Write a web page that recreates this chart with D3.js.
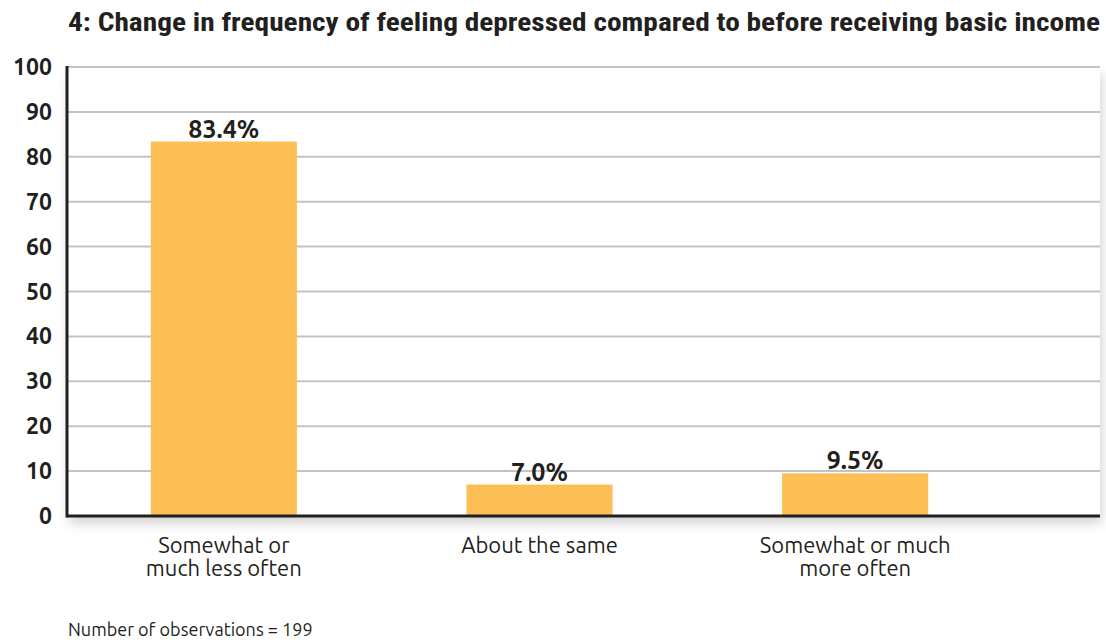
<!DOCTYPE html>
<html>
<head>
<meta charset="utf-8">
<script src="https://cdn.jsdelivr.net/npm/d3@7"></script>
<style>
  body { margin: 0; background: #fff; }
  svg { display: block; }
</style>
</head>
<body>
<svg id="chart"></svg>
<script>
const categories = [['Somewhat or', 'much less often'], ['About the same'], ['Somewhat or much', 'more often']];
const values = [83.4, 7.0, 9.5];
const valueLabels = ['83.4%', '7.0%', '9.5%'];
const yTicks = [0, 10, 20, 30, 40, 50, 60, 70, 80, 90, 100];
const title = '4: Change in frequency of feeling depressed compared to before receiving basic income';
const note = 'Number of observations = 199';

const width = 1106, height = 640;
const margin = {top: 67, right: 6, bottom: 124, left: 67};
const plotRight = width - margin.right;
const innerH = height - margin.top - margin.bottom;

const svg = d3.select('#chart')
    .attr('width', width)
    .attr('height', height)
    .style('font-family', "Ubuntu, 'Open Sans', 'Noto Sans', sans-serif");

const defs = svg.append('defs');
const shadow = defs.append('filter').attr('id', 'shadow')
    .attr('x', '-5%').attr('y', '-5%').attr('width', '110%').attr('height', '115%');
shadow.append('feDropShadow')
    .attr('dx', 2).attr('dy', 7).attr('stdDeviation', 6)
    .attr('flood-color', '#000').attr('flood-opacity', 0.18);

svg.append('text')
    .attr('x', 68)
    .attr('y', 31)
    .attr('textLength', 1032)
    .attr('lengthAdjust', 'spacingAndGlyphs')
    .style('font-family', "'Liberation Sans Narrow', 'Roboto Condensed', 'Noto Sans', sans-serif")
    .style('font-weight', 700)
    .style('font-size', '25px')
    .attr('fill', '#231f20')
    .text(title);

const yscale = d3.scaleLinear()
    .domain([0, 100])
    .range([margin.top + innerH, margin.top]);

const xscale = d3.scaleBand()
    .domain(d3.range(values.length))
    .range([66, 1013])
    .paddingInner(0.537)
    .paddingOuter(0.2685);

// plot background with shadow
svg.append('rect')
    .attr('x', margin.left)
    .attr('y', yscale(100))
    .attr('width', plotRight - margin.left)
    .attr('height', yscale(0) - yscale(100))
    .attr('fill', '#fff')
    .attr('filter', 'url(#shadow)');

// gridlines
svg.append('g')
    .selectAll('line')
    .data(yTicks.filter(d => d > 0))
    .join('line')
    .attr('x1', margin.left)
    .attr('x2', plotRight)
    .attr('y1', d => yscale(d))
    .attr('y2', d => yscale(d))
    .attr('stroke', '#c3c3c7')
    .attr('stroke-width', 2);

// bars
svg.append('g')
    .selectAll('rect')
    .data(values)
    .join('rect')
    .attr('x', (d, i) => xscale(i))
    .attr('y', d => yscale(d))
    .attr('width', xscale.bandwidth())
    .attr('height', d => yscale(0) - yscale(d))
    .attr('fill', '#fcbf56');

// value labels
svg.append('g')
    .selectAll('text')
    .data(values)
    .join('text')
    .attr('x', (d, i) => xscale(i) + xscale.bandwidth() / 2)
    .attr('y', d => yscale(d) - 4)
    .attr('text-anchor', 'middle')
    .style('font-weight', 700)
    .style('font-size', '25px')
    .attr('fill', '#231f20')
    .text((d, i) => valueLabels[i]);

// axes lines
svg.append('line')
    .attr('x1', margin.left).attr('x2', margin.left)
    .attr('y1', yscale(100) - 1).attr('y2', yscale(0) + 1.5)
    .attr('stroke', '#231f20').attr('stroke-width', 3);
svg.append('line')
    .attr('x1', margin.left).attr('x2', plotRight)
    .attr('y1', yscale(0)).attr('y2', yscale(0))
    .attr('stroke', '#231f20').attr('stroke-width', 3);

// y tick labels
svg.append('g')
    .selectAll('text')
    .data(yTicks)
    .join('text')
    .attr('x', 52)
    .attr('y', d => yscale(d) + 8)
    .attr('text-anchor', 'end')
    .style('font-weight', 700)
    .style('font-size', '23px')
    .attr('fill', '#231f20')
    .text(d => d);

// category labels
const cat = svg.append('g')
    .selectAll('text')
    .data(categories)
    .join('text')
    .attr('x', (d, i) => xscale(i) + xscale.bandwidth() / 2)
    .attr('y', 553)
    .attr('text-anchor', 'middle')
    .style('font-size', '22px')
    .attr('fill', '#231f20');
cat.selectAll('tspan')
    .data(d => d)
    .join('tspan')
    .attr('x', function () { return d3.select(this.parentNode).attr('x'); })
    .attr('dy', (d, i) => i === 0 ? 0 : 23)
    .text(d => d);

svg.append('text')
    .attr('x', 68)
    .attr('y', 636)
    .style('font-size', '18px')
    .attr('fill', '#231f20')
    .text(note);
</script>
</body>
</html>
